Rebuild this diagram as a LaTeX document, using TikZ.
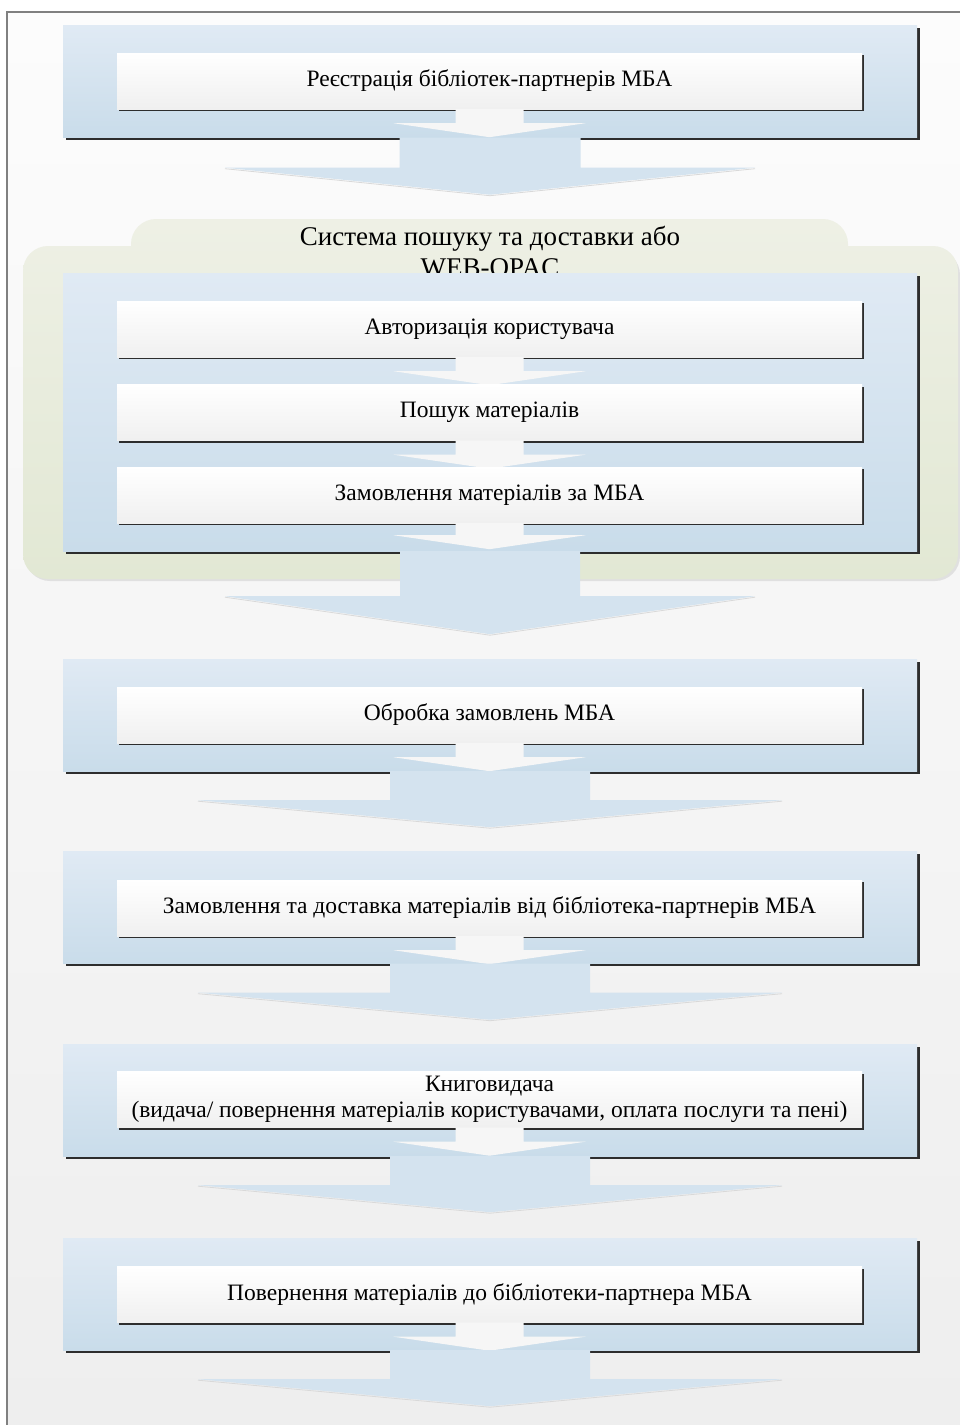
\documentclass[tikz,border=0pt]{standalone}
\usepackage{fontspec}
\setmainfont{Liberation Serif}
\usetikzlibrary{shadows,calc}
\definecolor{bluetop}{RGB}{224,234,244}
\definecolor{bluebot}{RGB}{201,220,234}
\definecolor{arrowblue}{RGB}{212,227,239}
\definecolor{greentop}{RGB}{238,240,229}
\definecolor{greenbot}{RGB}{226,232,212}
\definecolor{frameline}{RGB}{128,128,128}
\definecolor{bgtop}{RGB}{252,252,252}
\definecolor{bgbot}{RGB}{238,238,238}
\definecolor{shadowc}{RGB}{45,45,45}
\definecolor{whitearrow}{RGB}{246,246,246}
\tikzset{
  outerbox/.style={rectangle, minimum width=854pt, minimum height=112pt, inner sep=0pt,
    top color=bluetop, bottom color=bluebot,
    general shadow={fill=shadowc, shadow xshift=2.5pt, shadow yshift=-2.5pt}},
  innerbox/.style={rectangle, minimum width=745pt, minimum height=56pt, inner sep=0pt,
    top color=white, bottom color=black!6,
    general shadow={fill=shadowc, shadow xshift=2pt, shadow yshift=-2pt},
    font=\fontsize{23.5}{26}\selectfont, align=center, text=black},
  bigarrow/.style={fill=arrowblue},
  smallarrow/.style={fill=whitearrow},
  arrowedge/.style={draw=black!15, line width=0.8pt},
  titletext/.style={font=\fontsize{27}{30}\selectfont, anchor=base},
}
% #1 style, #2 start, #3 shaft half width, #4 head half width, #5 shaft length, #6 total length
\newcommand{\flowarrow}[6]{%
  \fill[#1] ($(#2)+(-#3,0)$) -- ($(#2)+(#3,0)$) -- ($(#2)+(#3,#5)$) -- ($(#2)+(#4,#5)$)
    -- ($(#2)+(0,#6)$) -- ($(#2)+(-#4,#5)$) -- ($(#2)+(-#3,#5)$) -- cycle;}
\newcommand{\flowedge}[4]{%
  \draw[arrowedge] ($(#1)+(-#2,#3)$) -- ($(#1)+(0,#4)$) -- ($(#1)+(#2,#3)$);}
\begin{document}
\begin{tikzpicture}[x=1pt,y=-1pt]
\useasboundingbox (0,0) rectangle (960,1425);
% page background and frame
\fill[white] (0,0) rectangle (960,1425);
\shade[top color=bgtop, bottom color=bgbot] (7,12) rectangle (963,1428);
\draw[frameline, line width=1.3pt] (7,1428) -- (7,12) -- (963,12);

% green group (system)
\fill[black!12, rounded corners=25pt] (25,250) rectangle (960,581);
\shade[top color=greentop, bottom color=greenbot, rounded corners=25pt]
  (131,219) rectangle (848,300) (23,246) rectangle (958,579);
\node[titletext] (g1) at (490,245) {Система пошуку та доставки або};
\node[titletext] (g2) at (490,276) {WEB-OPAC};

% step 1
\node[outerbox] (o1) at (490,81.5) {};
\node[innerbox] (i1) at (489.5,81) {Реєстрація бібліотек-партнерів МБА};
\flowarrow{smallarrow}{i1.south}{34}{96}{14}{28}

% step 2 (system)
\node[outerbox, minimum height=278pt] (o2) at (490,412) {};
\node[innerbox] (i2a) at (489.5,329) {Авторизація користувача};
\flowarrow{smallarrow}{i2a.south}{34}{96}{14}{28}
\node[innerbox] (i2b) at (489.5,412.5) {Пошук матеріалів};
\flowarrow{smallarrow}{i2b.south}{34}{96}{14}{28}
\node[innerbox] (i2c) at (489.5,495) {Замовлення матеріалів за МБА};
\flowarrow{smallarrow}{i2c.south}{34}{96}{12}{26}

% step 3
\node[outerbox] (o3) at (490,715) {};
\node[innerbox] (i3) at (489.5,715) {Обробка замовлень МБА};
\flowarrow{smallarrow}{i3.south}{34}{96}{14}{28}

% step 4
\node[outerbox] (o4) at (490,907.5) {};
\node[innerbox] (i4) at (489.5,908) {Замовлення та доставка матеріалів від бібліотека-партнерів МБА};
\flowarrow{smallarrow}{i4.south}{34}{96}{14}{28}

% step 5
\node[outerbox] (o5) at (490,1100) {};
\node[innerbox] (i5) at (489.5,1099.5) {Книговидача\\(видача/ повернення матеріалів користувачами, оплата послуги та пені)};
\flowarrow{smallarrow}{i5.south}{34}{96}{14}{28}

% step 6
\node[outerbox] (o6) at (490,1294) {};
\node[innerbox] (i6) at (489.5,1294.5) {Повернення матеріалів до бібліотеки-партнера МБА};
\flowarrow{smallarrow}{i6.south}{34}{96}{14}{28}

% big arrows between steps
\flowarrow{bigarrow}{o1.south}{90.5}{265}{30}{57}
\flowedge{o1.south}{265}{31}{58}
\flowarrow{bigarrow}{o2.south}{90}{265}{45}{83}
\flowedge{o2.south}{265}{46}{84}
\flowarrow{bigarrow}{o3.south}{100}{292}{29}{56}
\flowedge{o3.south}{292}{30}{57}
\flowarrow{bigarrow}{o4.south}{100}{292}{29}{56}
\flowedge{o4.south}{292}{30}{57}
\flowarrow{bigarrow}{o5.south}{100}{292}{29}{56}
\flowedge{o5.south}{292}{30}{57}
\flowarrow{bigarrow}{o6.south}{100}{292}{29}{56}
\flowedge{o6.south}{292}{30}{57}
\end{tikzpicture}
\end{document}
